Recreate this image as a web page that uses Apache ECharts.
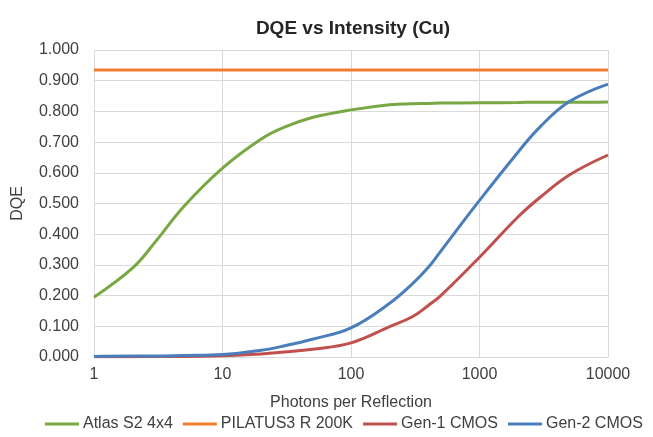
<!DOCTYPE html>
<html lang="en">
  <head>
    <meta charset="UTF-8" />
    <title>DQE vs Intensity (Cu)</title>
    <script src="https://cdn.jsdelivr.net/npm/echarts@6/dist/echarts.min.js"></script>
    <style>
      html, body { margin: 0; padding: 0; background: #fff; }
      #main { width: 653px; height: 437px; }
    </style>
  </head>
  <body>
    <div id="main"></div>

    <script>
      // photons per reflection (x, log scale)
      var photons = [1, 2, 3, 5, 10, 20, 30, 50, 100, 200, 300, 400, 500, 1000, 2000, 3000, 5000, 10000];

      var atlas = [0.195, 0.29, 0.375, 0.49, 0.615, 0.71, 0.748, 0.78, 0.805, 0.822, 0.825, 0.826, 0.827, 0.828, 0.829, 0.83, 0.83, 0.831];
      var pilatus = [0.935, 0.935, 0.935, 0.935, 0.935, 0.935, 0.935, 0.935, 0.935, 0.935, 0.935, 0.935, 0.935, 0.935, 0.935, 0.935, 0.935, 0.935];
      var gen1 = [0.001, 0.001, 0.002, 0.002, 0.004, 0.01, 0.016, 0.025, 0.046, 0.099, 0.131, 0.168, 0.2, 0.325, 0.457, 0.522, 0.593, 0.658];
      var gen2 = [0.002, 0.003, 0.003, 0.005, 0.008, 0.022, 0.036, 0.058, 0.095, 0.175, 0.238, 0.292, 0.345, 0.51, 0.668, 0.752, 0.832, 0.889];

      var names = ["Atlas S2 4x4", "PILATUS3 R 200K", "Gen-1 CMOS", "Gen-2 CMOS"];
      var colors = ["#77a843", "#ee7d2f", "#c0504d", "#4a7ebb"];

      function pairs(ys) {
        return photons.map(function (x, i) { return [x, ys[i]]; });
      }

      var font = "Liberation Sans, Arial, sans-serif";
      var chart = echarts.init(document.getElementById("main"));

      var option = {
        animation: false,
        color: colors,
        textStyle: { fontFamily: font },
        title: {
          text: "DQE vs Intensity (Cu)",
          left: 348,
          textAlign: "center",
          top: 14,
          textStyle: { fontFamily: font, fontSize: 19, fontWeight: "bold", color: "#262626" }
        },
        grid: { left: 94, right: 45, top: 50, bottom: 80 },
        legend: {
          data: names,
          bottom: 0,
          left: 40,
          itemWidth: 34,
          itemHeight: 3,
          itemGap: 10,
          icon: "rect",
          textStyle: { fontFamily: font, fontSize: 16, color: "#404040", padding: [0, 0, 0, -1] }
        },
        xAxis: {
          type: "log",
          logBase: 10,
          min: 1,
          max: 10000,
          name: "Photons per Reflection",
          nameLocation: "middle",
          nameGap: 38,
          nameTextStyle: { fontFamily: font, fontSize: 16, color: "#404040" },
          axisLine: { show: true, lineStyle: { color: "#d9d9d9" } },
          axisTick: { show: false },
          axisLabel: { fontFamily: font, fontSize: 16, color: "#404040", margin: 10, formatter: function (v) { return String(v); } },
          splitLine: { show: true, lineStyle: { color: "#d9d9d9", width: 1 } }
        },
        yAxis: {
          type: "value",
          min: 0,
          max: 1,
          interval: 0.1,
          name: "DQE",
          nameLocation: "middle",
          nameRotate: 90,
          nameGap: 68,
          nameTextStyle: { fontFamily: font, fontSize: 16, color: "#404040" },
          axisLine: { show: false },
          axisTick: { show: false },
          axisLabel: { fontFamily: font, fontSize: 16, color: "#404040", margin: 15, formatter: function (v) { return v.toFixed(3); } },
          splitLine: { show: true, lineStyle: { color: "#d9d9d9", width: 1 } }
        },
        series: [atlas, pilatus, gen1, gen2].map(function (ys, i) {
          return {
            name: names[i],
            type: "line",
            data: pairs(ys),
            smooth: 0.4,
            showSymbol: false,
            lineStyle: { width: 3, color: colors[i] }
          };
        })
      };

      chart.setOption(option);
    </script>
  </body>
</html>
